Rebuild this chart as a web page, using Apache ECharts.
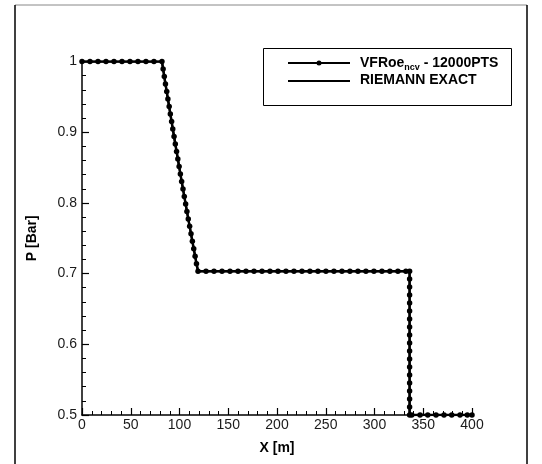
<!DOCTYPE html>
<html>
<head>
<meta charset="utf-8">
<script src="https://cdn.jsdelivr.net/npm/echarts@6/dist/echarts.min.js"></script>
<style>
  html, body { margin: 0; padding: 0; background: #fff; }
  #chart { width: 542px; height: 464px; }
</style>
</head>
<body>
<div id="chart"></div>
<script>
// exact solution
var exactX = [0, 82, 87, 92, 97, 102, 107, 112, 119, 336, 336, 400];
var exactP = [1, 1, 0.956, 0.914, 0.873, 0.832, 0.793, 0.755, 0.7035, 0.7035, 0.5, 0.5];

// VFRoe points shown with symbols
var vfX = [0, 8.2, 16.4, 24.6, 32.8, 41, 49.2, 57.4, 65.6, 73.8, 82,
  83.2, 84.4, 85.6, 86.9, 88.1, 89.4, 90.6, 91.9, 93.1, 94.4, 95.7, 97.0, 98.3, 99.6,
  100.9, 102.2, 103.6, 104.9, 106.3, 107.6, 109.0, 110.4, 111.8, 113.2, 114.6, 116.0, 117.4, 119,
  127.2, 135.4, 143.6, 151.8, 160, 168.2, 176.4, 184.6, 192.8, 201, 209.2, 217.4, 225.6,
  233.8, 242, 250.2, 258.4, 266.6, 274.8, 283, 291.2, 299.4, 307.6, 315.8, 324, 332.2, 336,
  336, 336, 336, 336, 336, 336, 336, 336, 336, 336, 336, 336, 336, 336, 336, 336, 336, 336,
  338.2, 346.7, 354.6, 363.1, 371.3, 379.2, 387.7, 395.2, 400];
var vfP = [1, 1, 1, 1, 1, 1, 1, 1, 1, 1, 1,
  0.9894, 0.9788, 0.9682, 0.9576, 0.947, 0.9364, 0.9258, 0.9152, 0.9046, 0.894, 0.8834, 0.8728, 0.8622, 0.8516,
  0.841, 0.8304, 0.8198, 0.8092, 0.7986, 0.788, 0.7774, 0.7668, 0.7562, 0.7456, 0.735, 0.7244, 0.7138, 0.7035,
  0.7035, 0.7035, 0.7035, 0.7035, 0.7035, 0.7035, 0.7035, 0.7035, 0.7035, 0.7035, 0.7035, 0.7035, 0.7035,
  0.7035, 0.7035, 0.7035, 0.7035, 0.7035, 0.7035, 0.7035, 0.7035, 0.7035, 0.7035, 0.7035, 0.7035, 0.7035, 0.7035,
  0.6922, 0.6809, 0.6696, 0.6583, 0.647, 0.6357, 0.6244, 0.6131, 0.6018, 0.5905, 0.5792, 0.5679, 0.5566, 0.5453, 0.534, 0.5227, 0.5114, 0.5,
  0.5, 0.5, 0.5, 0.5, 0.5, 0.5, 0.5, 0.5, 0.5];

var font = '"Liberation Sans", Arial, sans-serif';

function pairs(xs, ys) {
  return xs.map(function (x, i) { return [x, ys[i]]; });
}

var myChart = echarts.init(document.getElementById('chart'));
myChart.setOption({
  animation: false,
  backgroundColor: '#fff',
  grid: { left: 82, right: 70, top: 61.5, bottom: 49 },
  xAxis: {
    type: 'value',
    min: 0, max: 400, interval: 50,
    name: 'X [m]',
    nameLocation: 'middle',
    nameGap: 26,
    nameTextStyle: { color: '#000', fontFamily: font, fontWeight: 'bold', fontSize: 14 },
    axisLine: { lineStyle: { color: '#000', width: 1.5 } },
    axisTick: { inside: true, length: 7, lineStyle: { color: '#000', width: 1.2 } },
    minorTick: { show: true, splitNumber: 5, length: 4, lineStyle: { color: '#000', width: 1 } },
    axisLabel: { color: '#1a1a1a', fontFamily: font, fontSize: 14, margin: 3 },
    splitLine: { show: false }
  },
  yAxis: {
    type: 'value',
    min: 0.5, max: 1, interval: 0.1,
    name: 'P [Bar]',
    nameLocation: 'middle',
    nameGap: 43,
    nameTextStyle: { color: '#000', fontFamily: font, fontWeight: 'bold', fontSize: 14 },
    axisLine: { show: true, lineStyle: { color: '#000', width: 1.5 } },
    axisTick: { show: true, inside: true, length: 7, lineStyle: { color: '#000', width: 1.2 } },
    minorTick: { show: true, splitNumber: 5, length: 4, lineStyle: { color: '#000', width: 1 } },
    axisLabel: {
      color: '#1a1a1a', fontFamily: font, fontSize: 14, margin: 5,
      formatter: function (v) { return String(+v.toFixed(1)); }
    },
    splitLine: { show: false }
  },
  series: [
    {
      name: 'RIEMANN EXACT',
      type: 'line',
      data: pairs(exactX, exactP),
      symbol: 'none',
      lineStyle: { color: '#000', width: 2 },
      z: 2
    },
    {
      name: 'VFRoe',
      type: 'line',
      data: pairs(vfX, vfP),
      symbol: 'circle',
      symbolSize: 5.5,
      itemStyle: { color: '#000' },
      lineStyle: { color: '#000', width: 2.5 },
      z: 3
    }
  ],
  graphic: [
    // outer frame
    { type: 'line', shape: { x1: 15, y1: 5, x2: 527, y2: 5 }, style: { stroke: '#888', lineWidth: 1 } },
    { type: 'line', shape: { x1: 15, y1: 5, x2: 15, y2: 464 }, style: { stroke: '#000', lineWidth: 1.5 } },
    { type: 'line', shape: { x1: 527, y1: 5, x2: 527, y2: 464 }, style: { stroke: '#000', lineWidth: 1.5 } },
    // legend
    { type: 'rect', shape: { x: 263.5, y: 48.5, width: 248, height: 57 }, style: { fill: '#fff', stroke: '#000', lineWidth: 1 }, z: 10 },
    { type: 'line', shape: { x1: 288, y1: 63, x2: 350, y2: 63 }, style: { stroke: '#000', lineWidth: 2 }, z: 11 },
    { type: 'circle', shape: { cx: 319, cy: 63, r: 2.5 }, style: { fill: '#000' }, z: 11 },
    { type: 'line', shape: { x1: 288, y1: 81, x2: 350, y2: 81 }, style: { stroke: '#000', lineWidth: 1.8 }, z: 11 },
    {
      type: 'text', left: 360, top: 55, z: 11,
      style: {
        text: '{b|VFRoe}{s|ncv}{b| - 12000PTS}',
        rich: {
          b: { fontFamily: font, fontWeight: 'bold', fontSize: 14, fill: '#000', lineHeight: 16 },
          s: { fontFamily: font, fontWeight: 'bold', fontSize: 9, fill: '#000', lineHeight: 16, padding: [8, 0, 0, 0] }
        }
      }
    },
    {
      type: 'text', left: 360, top: 73, z: 11,
      style: { text: 'RIEMANN EXACT', fontFamily: font, fontWeight: 'bold', fontSize: 14, fill: '#000' }
    }
  ]
});
</script>
</body>
</html>
